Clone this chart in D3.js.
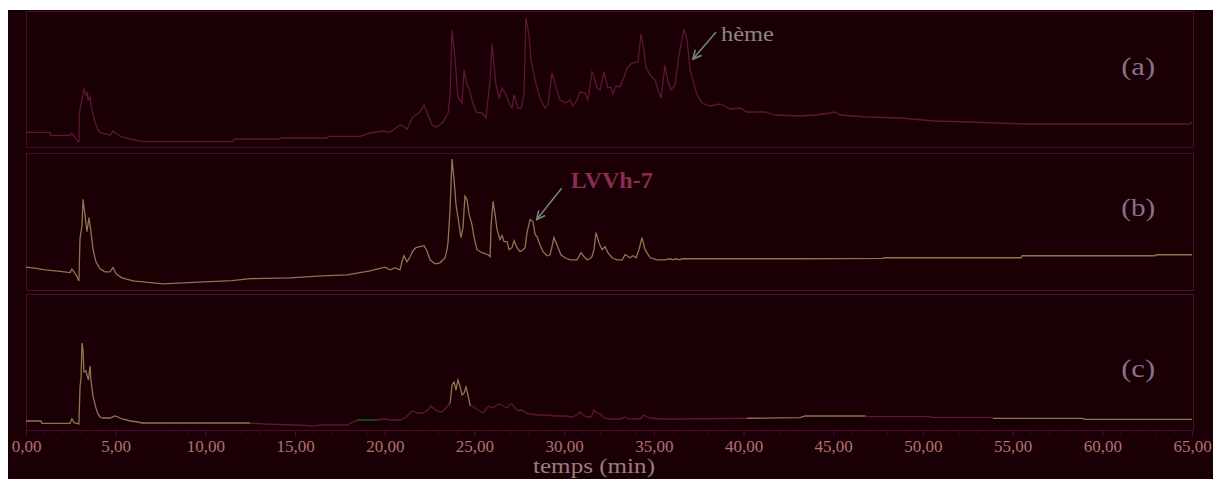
<!DOCTYPE html>
<html>
<head>
<meta charset="utf-8">
<script src="https://cdn.jsdelivr.net/npm/d3@7"></script>
<style>
  body { margin: 0; background: #fff; }
  svg { display: block; }
  text { font-family: "Liberation Serif", "DejaVu Serif", serif; }
</style>
</head>
<body>
<div id="chart"></div>
<script>
// retention time (min), detector signal (arbitrary units)
var traceA = [
  [0.00,14.7],[1.34,14.7],[1.35,11.7],[2.45,11.7],[2.56,14],[2.90,5.3],[2.95,5.3],[2.98,35],[3.12,47],[3.23,57.7],
  [3.34,52],[3.40,54],[3.46,47],[3.57,51],[3.62,42],[3.74,32],[3.85,25],[4.01,17],[4.13,14.3],[4.57,12.7],
  [4.68,11.7],[4.85,16],[5.07,13],[5.35,10],[5.80,8],[6.47,5.3],[11.54,5.3],[11.60,8],[14.16,8],[14.22,9],
  [16.78,9],[16.84,10.7],[18.62,10.7],[19.18,14],[19.90,16],[20.29,14.7],[20.46,17],[20.85,22],[21.02,21],[21.24,18],
  [21.57,30],[21.96,35],[22.19,42],[22.41,32],[22.63,22],[22.91,20],[23.25,25],[23.53,34],[23.64,52],[23.75,117],
  [23.92,87],[24.08,50],[24.31,44],[24.42,77],[24.58,62],[24.70,59],[24.86,47],[25.09,35],[25.42,34],[25.64,29],
  [25.87,67],[25.98,103],[26.20,62],[26.37,49],[26.54,59],[26.76,52],[26.93,44],[27.09,39],[27.21,52],[27.43,39],
  [27.60,39],[27.76,52],[27.87,129],[28.04,112],[28.15,87],[28.38,67],[28.65,49],[28.93,39],[29.10,42],[29.32,74],
  [29.55,59],[29.77,47],[30.10,44],[30.33,47],[30.49,41],[30.72,47],[30.88,55],[31.16,54],[31.33,47],[31.55,75],
  [31.66,71],[31.83,59],[32.00,57],[32.22,75],[32.44,59],[32.61,60],[32.72,53],[32.89,61],[33.11,60],[33.34,70],
  [33.50,79],[33.78,84],[34.12,85],[34.28,113],[34.45,97],[34.56,80],[34.79,72],[35.07,67],[35.23,57],[35.40,49],
  [35.62,82],[35.79,65],[35.96,57],[36.18,62],[36.40,92],[36.68,118],[36.85,107],[37.02,77],[37.18,67],[37.41,52],
  [37.69,44],[38.13,41],[38.69,43],[38.97,41],[39.25,38],[39.80,39],[40.19,35],[41.20,35],[41.75,32],[43.15,31],
  [43.98,32],[44.82,34],[45.10,35],[45.38,32],[46.83,30],[48.72,29],[50.67,26],[52.63,25],[55.69,23],[64.89,23],
  [65.00,25]
];

var traceB = [
  [0.00,22.7],[0.50,21.7],[1.06,20],[1.78,18.7],[2.45,17.3],[2.56,20.7],[2.79,15],[2.95,9],[3.01,51],[3.12,64],
  [3.18,90],[3.29,74],[3.40,58],[3.51,72],[3.62,58],[3.74,40],[3.90,28],[4.13,21],[4.40,18],[4.68,18],
  [4.85,22.3],[5.02,16],[5.35,12],[5.97,9],[6.52,8],[7.64,6],[9.92,8],[11.48,9.3],[12.49,11.3],[14.72,12],
  [16.50,14],[17.90,15],[19.18,19],[20.01,22.7],[20.29,20],[20.57,22],[20.85,20],[20.96,28],[21.07,34],[21.24,28],
  [21.41,33],[21.57,39],[21.74,42],[21.96,43],[22.19,44],[22.35,39],[22.52,30],[22.80,26],[23.08,27],[23.36,32],
  [23.47,40],[23.53,48],[23.64,80],[23.75,130],[23.86,110],[23.97,85],[24.14,65],[24.25,52],[24.36,62],[24.47,93],
  [24.58,90],[24.70,75],[24.86,65],[24.97,53],[25.14,40],[25.42,37],[25.76,35],[25.87,33],[25.93,65],[26.04,88],
  [26.15,75],[26.26,60],[26.42,50],[26.54,54],[26.65,48],[26.82,48],[26.93,40],[27.09,42],[27.21,49],[27.37,42],
  [27.54,38],[27.71,40],[27.82,42],[27.93,57],[28.10,70],[28.26,68],[28.38,55],[28.49,53],[28.65,45],[28.82,38],
  [29.04,34],[29.21,35],[29.32,43],[29.43,52],[29.60,45],[29.82,35],[30.05,32],[30.33,30],[30.72,30],[30.94,37],
  [31.11,33],[31.27,30],[31.44,31],[31.55,33],[31.66,40],[31.78,57],[31.94,47],[32.11,40],[32.28,43],[32.44,37],
  [32.67,32],[32.95,30],[33.23,30],[33.40,35],[33.50,34],[33.67,32],[33.84,34],[34.01,32],[34.17,40],[34.34,52],
  [34.51,40],[34.79,32],[35.18,30],[35.62,30],[35.90,31],[36.07,30],[36.24,31],[36.46,30],[36.57,31],[43.15,31],
  [47.72,31.3],[47.89,32],[55.47,32],[55.53,34],[62.94,34],[62.99,35],[65.00,35]
];

var traceC = [
  [0.00,9],[0.84,9],[0.89,6.7],[2.45,6.7],[2.56,11],[2.68,7.3],[2.95,6],[3.01,43],[3.07,52],[3.12,87],
  [3.18,80],[3.23,58],[3.34,59],[3.40,55],[3.48,50],[3.57,64],[3.62,50],[3.74,33],[3.90,22],[4.01,16],
  [4.13,13],[4.29,12],[4.68,12],[4.96,14],[5.13,13],[5.35,11],[5.63,10],[5.80,9],[6.24,8],[6.47,7],
  [12.49,7],[13.32,6],[15.05,5],[16.00,4],[16.50,5],[17.95,5],[18.06,6.7],[18.51,10],[19.57,10],[20.01,11],
  [20.29,10],[20.85,10],[21.13,12],[21.41,17],[21.57,19],[21.85,17],[22.13,17],[22.41,20],[22.58,24],[22.75,21],
  [22.91,19],[23.19,18],[23.41,22],[23.64,27],[23.75,45],[23.86,48],[23.97,40],[24.08,50],[24.19,44],[24.31,35],
  [24.42,37],[24.53,43],[24.64,35],[24.75,25],[24.97,23],[25.20,20],[25.48,17],[25.64,21],[25.82,24],[26.04,22],
  [26.26,25],[26.42,26],[26.59,24],[26.82,22],[26.93,25],[27.09,26],[27.26,22],[27.43,19],[27.65,20],[27.87,17],
  [28.10,16],[28.49,15],[29.04,15],[29.49,14],[30.05,14],[30.49,13],[30.77,16],[30.88,18],[31.05,15],[31.27,13],
  [31.50,13],[31.66,20],[31.83,17],[32.00,16],[32.17,13],[32.44,11],[33.17,11],[33.40,13],[33.56,11.3],[34.23,11],
  [34.45,15],[34.62,13],[34.79,12],[35.34,11],[36.46,11],[43.15,12.3],[43.42,14],[46.83,14],[46.88,13.3],[50.40,13.3],
  [50.45,12.7],[53.85,12.7],[53.91,11.7],[58.92,11.7],[58.98,10.7],[65.00,10.7]
];

var panelNames = ["(a)", "(b)", "(c)"];
var majorTicks = [0, 5, 10, 15, 20, 25, 30, 35, 40, 45, 50, 55, 60, 65];
var axisTitle = "temps (min)";

// peak annotations, in (time, signal) of their panel
var notes = [
  { panel: 0, text: "hème", tip: [37.18, 88], tail: [38.47, 115], at: [38.74, 106] },
  { panel: 1, text: "LVVh-7", tip: [28.47, 70], tail: [29.86, 101], at: [30.37, 101] }
];

// trace (c) is printed in several colours along its length
var segC = [
  [0, 12.5, "tan"], [12.5, 18.4, "maroon"], [18.4, 19.6, "green"], [19.6, 23.6, "maroon"],
  [23.6, 24.8, "tan"], [24.8, 40.2, "maroon"], [40.2, 46.8, "tan"], [46.8, 53.9, "maroon"], [53.9, 65, "tan"]
];

var width = 1213, height = 479;
var colors = { bg: "#1a0004", frame: "#4e0b2e", maroon: "#5e1536", tan: "#8d7452", green: "#10602c" };

var panels = [
  { top: 11, bottom: 147, data: traceA, color: colors.maroon },
  { top: 153, bottom: 290, data: traceB, color: colors.tan },
  { top: 294, bottom: 430, data: traceC, color: null }
];

var svg = d3.select('#chart')
    .append('svg')
    .attr('width', width)
    .attr('height', height);

svg.append('rect')
    .attr('x', 8).attr('y', 10)
    .attr('width', width - 8).attr('height', height - 10)
    .attr('fill', colors.bg);

var x = d3.scaleLinear().domain([0, 65]).range([26, 1192]);

var defs = svg.append('defs');
defs.append('marker')
    .attr('id', 'head')
    .attr('viewBox', '0 0 10 10')
    .attr('refX', 9).attr('refY', 5)
    .attr('markerWidth', 7).attr('markerHeight', 7)
    .attr('orient', 'auto')
    .append('path')
    .attr('d', 'M1,1 L9,5 L1,9')
    .attr('fill', 'none')
    .attr('stroke', '#72867a')
    .attr('stroke-width', 1.6);

panels.forEach(function (p, i) {
  p.y = d3.scaleLinear().domain([0, 136]).range([p.bottom, p.top]);

  svg.append('rect')
      .attr('x', x(0) + 0.5).attr('y', p.top + 0.5)
      .attr('width', x(65) - x(0) + 1).attr('height', p.bottom - p.top)
      .attr('fill', 'none')
      .attr('stroke', colors.frame)
      .attr('stroke-width', 1);

  var line = d3.line()
      .x(function (d) { return x(d[0]); })
      .y(function (d) { return p.y(d[1]); });

  if (p.color) {
    svg.append('path')
        .datum(p.data)
        .attr('d', line)
        .attr('fill', 'none')
        .attr('stroke', p.color)
        .attr('stroke-width', 1.3);
  } else {
    segC.forEach(function (s, k) {
      defs.append('clipPath')
          .attr('id', 'seg' + k)
          .append('rect')
          .attr('x', x(s[0])).attr('y', p.top)
          .attr('width', x(s[1]) - x(s[0])).attr('height', p.bottom - p.top);
      svg.append('path')
          .datum(p.data)
          .attr('d', line)
          .attr('clip-path', 'url(#seg' + k + ')')
          .attr('fill', 'none')
          .attr('stroke', colors[s[2]])
          .attr('stroke-width', 1.3);
    });
  }

  svg.append('text')
      .attr('x', x(62.0))
      .attr('y', p.y([72, 73, 53][i]))
      .attr('text-anchor', 'middle')
      .attr('font-size', 26)
      .attr('textLength', 34)
      .attr('lengthAdjust', 'spacingAndGlyphs')
      .attr('fill', '#8a7088')
      .text(panelNames[i]);
});

notes.forEach(function (n, k) {
  var y = panels[n.panel].y;
  svg.append('line')
      .attr('x1', x(n.tail[0])).attr('y1', y(n.tail[1]))
      .attr('x2', x(n.tip[0])).attr('y2', y(n.tip[1]))
      .attr('stroke', '#72867a')
      .attr('stroke-width', 1.5)
      .attr('marker-end', 'url(#head)');
  svg.append('text')
      .attr('x', x(n.at[0]))
      .attr('y', y(n.at[1]))
      .attr('font-size', k === 0 ? 22 : 23)
      .attr('font-weight', k === 0 ? 'normal' : 'bold')
      .attr('textLength', k === 0 ? 53 : 82)
      .attr('lengthAdjust', 'spacingAndGlyphs')
      .attr('fill', k === 0 ? '#8e8682' : '#8c2c55')
      .text(n.text);
});

// x axis under the last panel
var fr = d3.formatLocale({ decimal: ",", thousands: ".", grouping: [3], currency: ["", ""] });
var axisY = panels[2].bottom + 0.5;

var minor = svg.append('g')
    .attr('transform', 'translate(0,' + axisY + ')')
    .call(d3.axisBottom(x).tickValues(d3.range(0, 66, 1)).tickSize(3).tickFormat(''));

var major = svg.append('g')
    .attr('transform', 'translate(0,' + axisY + ')')
    .call(d3.axisBottom(x).tickValues(majorTicks).tickSize(6).tickFormat(fr.format('.2f')));

[minor, major].forEach(function (g) {
  g.select('.domain').remove();
  g.selectAll('line').attr('stroke', colors.frame);
});

major.selectAll('text')
    .attr('y', 21)
    .attr('dy', 0)
    .attr('font-size', 17)
    .attr('font-family', '"Liberation Serif", serif')
    .attr('fill', '#b2706f');

svg.append('text')
    .attr('x', 594)
    .attr('y', 473)
    .attr('text-anchor', 'middle')
    .attr('font-size', 20)
    .attr('textLength', 122)
    .attr('lengthAdjust', 'spacingAndGlyphs')
    .attr('fill', '#9a7c80')
    .text(axisTitle);
</script>
</body>
</html>
